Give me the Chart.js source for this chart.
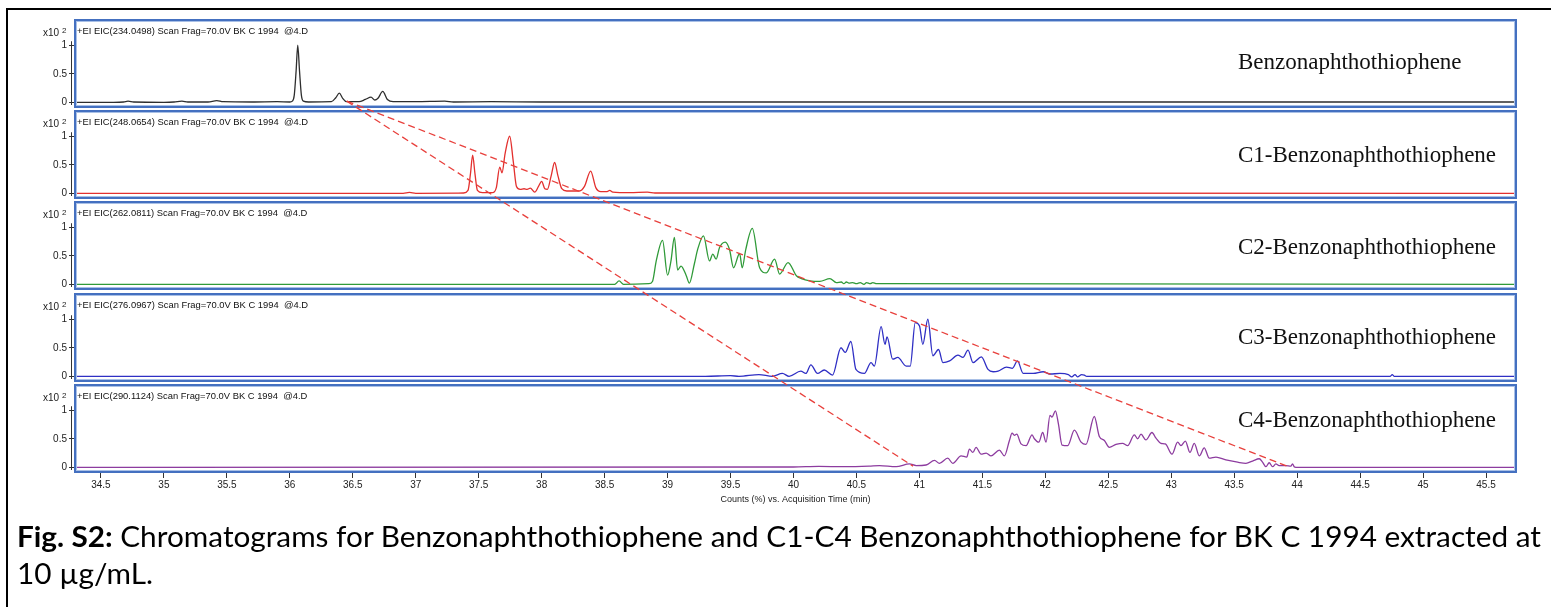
<!DOCTYPE html>
<html><head><meta charset="utf-8">
<script src="https://cdn.jsdelivr.net/npm/chart.js@4.4.1/dist/chart.umd.min.js"></script>
<style>
html,body{margin:0;padding:0;background:#fff;}
#wrap{position:relative;width:1551px;height:607px;overflow:hidden;background:#fff;}
#frame{position:absolute;left:6px;top:8px;width:1700px;height:700px;border-left:2px solid #000;border-top:2px solid #000;}
.pc{position:absolute;left:0;}
#overlay{position:absolute;left:0;top:0;pointer-events:none;}
#caption{position:absolute;left:17px;top:518px;font-family:Lato,'Open Sans',sans-serif;font-size:28px;line-height:37px;color:#000;white-space:nowrap;transform-origin:0 0;}
</style></head><body>
<div id="wrap">
<div id="frame"></div>
<div id="panels"></div>
<canvas id="overlay" width="1551" height="607"></canvas>
<div id="caption"><span id="cap1"><b>Fig. S2:</b> Chromatograms for Benzonaphthothiophene and C1-C4 Benzonaphthothiophene for BK C 1994 extracted at</span><br>10 µg/mL.</div>
</div>
<script>
// ---------- data ----------
const categories = ['Benzonaphthothiophene','C1-Benzonaphthothiophene','C2-Benzonaphthothiophene','C3-Benzonaphthothiophene','C4-Benzonaphthothiophene'];
const scanTitles = [
  '+EI EIC(234.0498) Scan Frag=70.0V BK C 1994  @4.D',
  '+EI EIC(248.0654) Scan Frag=70.0V BK C 1994  @4.D',
  '+EI EIC(262.0811) Scan Frag=70.0V BK C 1994  @4.D',
  '+EI EIC(276.0967) Scan Frag=70.0V BK C 1994  @4.D',
  '+EI EIC(290.1124) Scan Frag=70.0V BK C 1994  @4.D'
];
const xTicks = [34.5,35,35.5,36,36.5,37,37.5,38,38.5,39,39.5,40,40.5,41,41.5,42,42.5,43,43.5,44,44.5,45,45.5];
const yTicks = [0,0.5,1];
const xRange = [34.286, 45.746];
const yRange = [-0.1, 1.46];

// [time (min), counts (x10^2)]
const seriesC0 = [[34.286,0],[34.6,0],[34.68,0.005],[34.715,0.02],[34.76,0.005],[35.0,0],[35.08,0.005],[35.143,0.02],[35.19,0.005],[35.35,0.005],[35.42,0.03],[35.47,0.01],[35.7,0.005],[35.9,0.01],[36.0,0.005],[36.02,0.02],[36.035,0.12],[36.05,0.55],[36.063,1.0],[36.077,0.55],[36.092,0.12],[36.108,0.02],[36.15,0.005],[36.33,0.01],[36.365,0.08],[36.393,0.16],[36.42,0.07],[36.45,0.01],[36.55,0.01],[36.6,0.05],[36.645,0.09],[36.675,0.04],[36.7,0.07],[36.738,0.19],[36.775,0.05],[36.82,0.01],[37.0,0.01],[37.23,0.02],[37.3,0.005],[37.6,0.01],[38.0,0.005],[39.0,0.005],[40.0,0.005],[45.746,0.005]];
const seriesC1 = [[34.286,0],[36.9,0],[36.95,0.015],[37.0,0],[37.38,0.005],[37.415,0.05],[37.435,0.35],[37.452,0.67],[37.47,0.35],[37.49,0.05],[37.53,0.01],[37.61,0.01],[37.64,0.1],[37.667,0.46],[37.685,0.36],[37.71,0.7],[37.746,1.0],[37.775,0.55],[37.8,0.12],[37.83,0.07],[37.86,0.08],[37.885,0.07],[37.91,0.09],[37.945,0.02],[37.975,0.12],[38.0,0.21],[38.025,0.08],[38.045,0.07],[38.075,0.3],[38.103,0.54],[38.13,0.3],[38.16,0.08],[38.2,0.04],[38.3,0.04],[38.34,0.12],[38.389,0.39],[38.43,0.1],[38.47,0.03],[38.52,0.03],[38.54,0.05],[38.565,0.02],[38.7,0.01],[38.84,0.02],[38.9,0.005],[45.746,0]];
const seriesC2 = [[34.286,0],[38.5,0],[38.58,0],[38.615,0.06],[38.65,0],[38.85,0.01],[38.88,0.05],[38.91,0.41],[38.96,0.77],[39.0,0.16],[39.027,0.41],[39.054,0.82],[39.08,0.25],[39.107,0.32],[39.147,0.16],[39.173,0.02],[39.213,0.36],[39.24,0.62],[39.285,0.85],[39.333,0.41],[39.359,0.53],[39.386,0.44],[39.412,0.64],[39.458,0.74],[39.492,0.61],[39.524,0.29],[39.572,0.54],[39.593,0.29],[39.62,0.6],[39.673,0.98],[39.731,0.29],[39.784,0.2],[39.85,0.44],[39.89,0.18],[39.957,0.38],[40.023,0.15],[40.063,0.1],[40.129,0.06],[40.209,0.05],[40.289,0.1],[40.34,0.03],[40.38,0.04],[40.4,0.01],[40.42,0.04],[40.44,0.02],[40.47,0.03],[40.5,0.01],[40.53,0.03],[40.56,0],[40.58,0.03],[40.61,0.01],[40.63,0.03],[40.66,0.01],[45.746,0]];
const seriesC3 = [[34.286,0],[39.3,0],[39.5,0.01],[39.567,0],[39.726,0.03],[39.832,0],[39.912,0.05],[39.965,0],[40.058,0.09],[40.098,0.05],[40.138,0.2],[40.191,0.05],[40.244,0.11],[40.31,0.02],[40.377,0.5],[40.411,0.42],[40.456,0.61],[40.496,0.12],[40.563,0.05],[40.616,0.24],[40.642,0.18],[40.696,0.87],[40.727,0.56],[40.743,0.69],[40.788,0.3],[40.828,0.33],[40.895,0.18],[40.927,0.18],[40.967,0.94],[41.001,0.88],[41.027,0.56],[41.067,1.0],[41.107,0.36],[41.152,0.47],[41.187,0.24],[41.24,0.27],[41.306,0.37],[41.346,0.33],[41.386,0.46],[41.426,0.24],[41.492,0.34],[41.545,0.12],[41.585,0.08],[41.625,0.09],[41.692,0.16],[41.739,0.14],[41.779,0.27],[41.824,0.05],[41.904,0.05],[41.983,0.08],[42.037,0.04],[42.116,0.05],[42.183,0.03],[42.21,-0.01],[42.236,0.03],[42.255,-0.01],[42.289,0.03],[42.31,0.02],[42.329,0],[44.74,0],[44.755,0.03],[44.77,0],[45.746,0]];
const seriesC4 = [[34.286,0],[40.0,0.005],[40.2,0.015],[40.4,0.01],[40.6,0.02],[40.683,0.03],[40.815,0.01],[40.921,0.06],[40.974,0.03],[41.053,0.04],[41.12,0.12],[41.159,0.07],[41.225,0.16],[41.265,0.07],[41.331,0.2],[41.376,0.18],[41.397,0.32],[41.424,0.26],[41.45,0.35],[41.49,0.23],[41.53,0.25],[41.569,0.2],[41.635,0.3],[41.675,0.2],[41.715,0.47],[41.736,0.6],[41.754,0.56],[41.773,0.58],[41.807,0.41],[41.847,0.38],[41.895,0.57],[41.913,0.5],[41.948,0.44],[41.979,0.61],[42.006,0.44],[42.037,0.91],[42.053,0.88],[42.08,0.99],[42.104,0.76],[42.133,0.39],[42.178,0.38],[42.231,0.65],[42.284,0.44],[42.323,0.4],[42.389,0.89],[42.429,0.54],[42.469,0.47],[42.508,0.35],[42.561,0.4],[42.614,0.42],[42.654,0.38],[42.707,0.57],[42.733,0.5],[42.76,0.58],[42.799,0.48],[42.847,0.61],[42.879,0.51],[42.918,0.42],[42.953,0.41],[43.006,0.23],[43.051,0.44],[43.077,0.38],[43.112,0.46],[43.149,0.26],[43.183,0.42],[43.223,0.2],[43.262,0.34],[43.302,0.16],[43.355,0.18],[43.434,0.13],[43.527,0.09],[43.593,0.07],[43.646,0.11],[43.699,0.15],[43.725,0.09],[43.752,0.01],[43.778,0.08],[43.805,0.01],[43.831,0.06],[43.857,0.03],[43.91,0.03],[43.95,0.02],[43.963,0.06],[43.976,0.01],[43.99,0],[45.746,0]];
const allSeries = [seriesC0, seriesC1, seriesC2, seriesC3, seriesC4];

// guide lines: [panel, time, value] -> [panel, time, value]
const guideLines = [
  [[0, 36.452, 0.02], [4, 40.95, 0.02]],
  [[0, 36.452, 0.02], [4, 43.92, 0.02]]
];

// ---------- style / layout ----------
const colors = ['#2e2e2e', '#e3302e', '#2f9a38', '#2f2fc4', '#8d3c9f'];
const panelTops = [19, 110, 201, 293, 384];
const panelH = 89;
const labelOffsets = [44, 46, 47, 45, 37];
const labelLeft = 1238;
const axisFont = 'Liberation Sans';

function panelPlugin(i){
  return {
    id: 'panel' + i,
    afterDraw(chart){
      const ctx = chart.ctx, a = chart.chartArea, ys = chart.scales.y;
      ctx.save();
      // y axis line
      ctx.strokeStyle = '#333'; ctx.lineWidth = 1;
      ctx.beginPath();
      ctx.moveTo(a.left - 2.5, ys.getPixelForValue(1.07));
      ctx.lineTo(a.left - 2.5, a.bottom - 3);
      ctx.stroke();
      // panel border
      ctx.strokeStyle = '#4470c0'; ctx.lineWidth = 2;
      ctx.strokeRect(a.left + 1, a.top + 1, a.right - a.left - 2, a.bottom - a.top - 2);
      ctx.strokeStyle = '#a9c0e6'; ctx.lineWidth = 1;
      ctx.strokeRect(a.left + 2.5, a.top + 2.5, a.right - a.left - 5, a.bottom - a.top - 5);
      // x10^2
      ctx.fillStyle = '#222';
      ctx.textBaseline = 'alphabetic';
      ctx.font = '10px "' + axisFont + '"';
      ctx.textAlign = 'right';
      ctx.fillText('x10', a.left - 15, a.top + 17);
      ctx.font = '8px "' + axisFont + '"';
      ctx.textAlign = 'left';
      ctx.fillText('2', a.left - 12, a.top + 14);
      // scan title
      ctx.font = '9.4px "' + axisFont + '"';
      ctx.fillStyle = '#111';
      ctx.fillText(scanTitles[i], a.left + 3, a.top + 15);
      // compound label
      ctx.font = '23px "Liberation Serif"';
      ctx.textBaseline = 'middle';
      ctx.fillStyle = '#111';
      ctx.fillText(categories[i], labelLeft, a.top + labelOffsets[i]);
      ctx.restore();
    }
  };
}

const charts = [];
const holder = document.getElementById('panels');
for (let i = 0; i < 5; i++){
  const isLast = i === 4;
  const h = panelH + (isLast ? 32 : 0);
  const div = document.createElement('div');
  div.className = 'pc';
  div.style.top = panelTops[i] + 'px';
  div.style.width = '1551px';
  div.style.height = h + 'px';
  const cv = document.createElement('canvas');
  cv.width = 1551; cv.height = h;
  cv.style.width = '1551px'; cv.style.height = h + 'px';
  div.appendChild(cv);
  holder.appendChild(div);
  const ch = new Chart(cv, {
    type: 'line',
    data: { datasets: [{
      data: allSeries[i].map(p => ({x: p[0], y: p[1]})),
      borderColor: colors[i], borderWidth: 1.3, pointRadius: 0,
      cubicInterpolationMode: 'monotone', fill: false
    }]},
    options: {
      responsive: false, animation: false, devicePixelRatio: 1, events: [],
      layout: { padding: 0 },
      plugins: { legend: { display: false }, tooltip: { enabled: false } },
      scales: {
        x: {
          type: 'linear', min: xRange[0], max: xRange[1], display: isLast,
          afterBuildTicks: s => { s.ticks = xTicks.map(v => ({value: v})); },
          grid: { drawOnChartArea: false, tickLength: 5, color: '#333' },
          border: { display: false },
          ticks: { font: { family: axisFont, size: 10 }, color: '#222', padding: 1, maxRotation: 0, autoSkip: false, callback: v => String(v) },
          title: { display: true, text: 'Counts (%) vs. Acquisition Time (min)', font: { family: axisFont, size: 9 }, color: '#222', padding: { top: 0, bottom: 0 } },
          afterFit: s => { if (isLast) s.height = 32; s.paddingLeft = 0; s.paddingRight = 0; }
        },
        y: {
          type: 'linear', min: yRange[0], max: yRange[1],
          afterBuildTicks: s => { s.ticks = yTicks.map(v => ({value: v})); },
          grid: { drawOnChartArea: false, tickLength: 5, color: '#333' },
          border: { display: false },
          ticks: { font: { family: axisFont, size: 10 }, color: '#222', padding: 2, callback: v => String(v) },
          afterFit: s => { s.width = 74; s.paddingTop = 0; s.paddingBottom = 0; }
        }
      }
    },
    plugins: [panelPlugin(i), { id: 'rpad', beforeLayout(c){ c.options.layout.padding = { left: 0, right: 34, top: 0, bottom: 0 }; } }]
  });
  charts.push(ch);
}

// dashed guide lines across panels
function toPage(p){
  const c = charts[p[0]];
  return [c.scales.x.getPixelForValue(p[1]), panelTops[p[0]] + c.scales.y.getPixelForValue(p[2])];
}
const octx = document.getElementById('overlay').getContext('2d');
octx.strokeStyle = '#e8403c'; octx.lineWidth = 1.3; octx.setLineDash([7, 4]);
guideLines.forEach(g => {
  const a = toPage(g[0]), b = toPage(g[1]);
  octx.beginPath(); octx.moveTo(a[0], a[1]); octx.lineTo(b[0], b[1]); octx.stroke();
});

// fit caption line width (condensed like the original face)
function fitCaption(){
  const cap = document.getElementById('caption');
  const s = document.getElementById('cap1');
  cap.style.transform = 'none';
  const w = s.getBoundingClientRect().width;
  if (w > 0) cap.style.transform = 'scaleX(' + (1524 / w).toFixed(4) + ')';
}
fitCaption();
if (document.fonts && document.fonts.ready) document.fonts.ready.then(fitCaption);
</script>
</body></html>
